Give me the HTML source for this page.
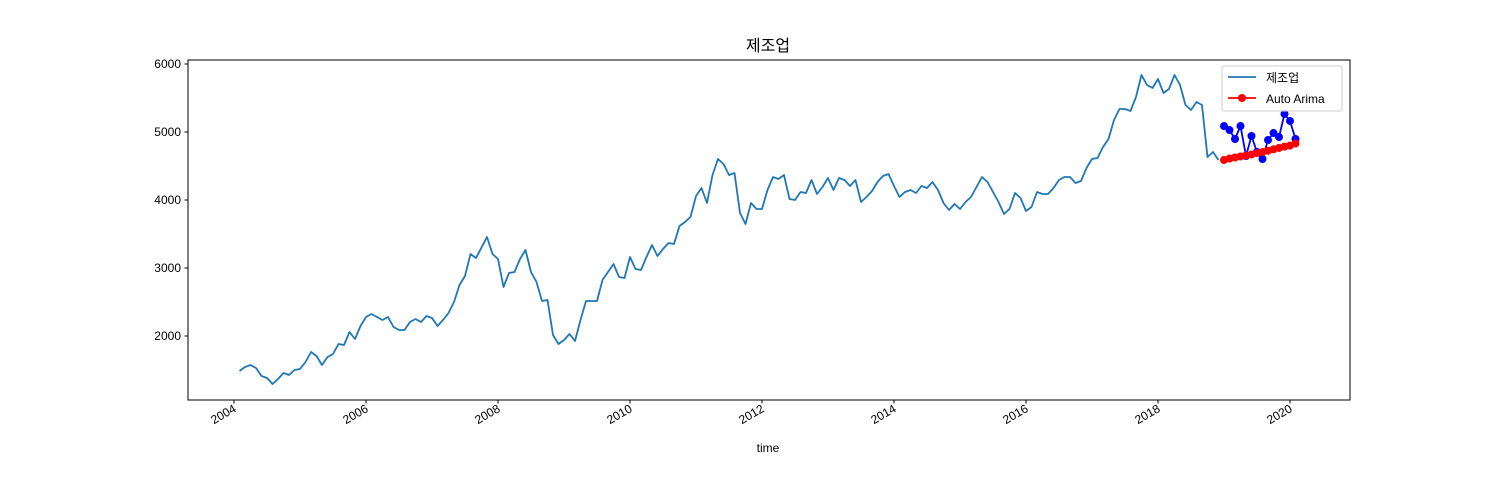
<!DOCTYPE html>
<html><head><meta charset="utf-8">
<style>
body{margin:0;background:#fff;}
svg{display:block;font-family:"Liberation Sans","Noto Sans CJK KR",sans-serif;}
</style></head>
<body>
<svg id="chart" width="1500" height="500" viewBox="0 0 1500 500">
<rect width="1500" height="500" fill="#fff"/>
<text x="768" y="51" font-size="16" text-anchor="middle" fill="#000">제조업</text>
<g id="grid"></g>
<g id="series"></g>
<rect x="188" y="60" width="1162" height="340" fill="none" stroke="#000" stroke-width="1"/>
<g id="axes"></g>
<text x="768" y="452" font-size="12" text-anchor="middle">time</text>
<g>
<rect x="1222" y="66" width="120" height="45" rx="2" fill="#fff" fill-opacity="0.8" stroke="#ccc"/>
<g>
<line x1="1228" y1="77" x2="1256" y2="77" stroke="#1f77b4" stroke-width="1.8"/>
<text x="1266" y="82" font-size="12">제조업</text>
</g>
<g>
<line x1="1228" y1="98" x2="1256" y2="98" stroke="red" stroke-width="1.8"/>
<circle cx="1242" cy="98" r="4" fill="red"/>
<text x="1266" y="103" font-size="12">Auto Arima</text>
</g>
</g>
</svg>
<script>
const startYear = 2004;
const actualValues = [1485,1544,1574,1529,1412,1382,1294,1368,1456,1426,1500,1515,
1618,1765,1706,1574,1691,1735,1882,1868,2059,1956,2147,2279,
2324,2279,2235,2279,2132,2088,2088,2206,2250,2206,2294,2265,
2147,2235,2338,2500,2750,2882,3206,3147,3300,3456,3206,3132,
2721,2926,2941,3132,3265,2941,2794,2515,2529,2015,1882,1941,
2029,1926,2235,2515,2515,2515,2824,2941,3059,2868,2853,3162,
2985,2971,3162,3338,3176,3279,3368,3353,3618,3676,3750,4059,
4176,3956,4368,4603,4529,4368,4397,3809,3647,3956,3868,3868,
4147,4338,4309,4368,4015,4000,4118,4103,4294,4088,4191,4324,
4147,4324,4294,4206,4294,3971,4044,4132,4265,4353,4382,4206,
4044,4118,4147,4103,4206,4176,4265,4147,3956,3853,3941,3868,
3971,4044,4191,4338,4265,4118,3971,3794,3868,4103,
4029,3838,3897,4118,4088,4088,4176,4294,4338,4338,4250,4279,4471,4603,4618,4779,4897,5176,5338,5338,5309,5515,5838,5691,5647,5779,5573,5632,5838,5691,5397,5324,5441,5397,4632,4706,4588];
const forecastStartIndex = 179;
const testValues = [5088,5029,4897,5088,4647,4941,4706,4603,4882,4985,4926,5265,5162,4897];
const arimaValues = [4588,4610,4625,4640,4655,4670,4690,4705,4725,4745,4765,4785,4800,4830];
const yTicks = [2000,3000,4000,5000,6000];
const xTicks = [2004,2006,2008,2010,2012,2014,2016,2018,2020];

const NS="http://www.w3.org/2000/svg";
function X(t){return 234+(t-2004)*66;}
function Y(v){return 64+(6000-v)*0.068;}
function tOf(i){return startYear+(i+1)/12;}
function mk(tag,attrs,parent){const e=document.createElementNS(NS,tag);for(const k in attrs)e.setAttribute(k,attrs[k]);parent.appendChild(e);return e;}
const axes=document.getElementById('axes'), series=document.getElementById('series');

yTicks.forEach(v=>{
  const g=mk('g',{},axes);
  
  
  mk('line',{x1:184.5,x2:188,y1:Y(v),y2:Y(v),stroke:'#000'},g);
  const t=mk('text',{x:181,y:Y(v)+4,'font-size':12,'text-anchor':'end'},g);t.textContent=v;
});
xTicks.forEach(yr=>{
  const g=mk('g',{},axes);
  
  
  mk('line',{x1:X(yr),x2:X(yr),y1:400,y2:403.5,stroke:'#000'},g);
  const t=mk('text',{x:X(yr)+3,y:411,'font-size':12,'text-anchor':'end',transform:`rotate(-30 ${X(yr)+3} 411)`},g);t.textContent=yr;
});

const pts=actualValues.map((v,i)=>X(tOf(i)).toFixed(1)+','+Y(v).toFixed(1)).join(' ');
const line=mk('polyline',{points:pts,fill:'none',stroke:'#1f77b4','stroke-width':1.8,'stroke-linejoin':'round'},series);



function drawMarked(vals,color,name){
  const g=mk('g',{},series);
  
  
  const p=vals.map((v,i)=>X(tOf(forecastStartIndex+i)).toFixed(1)+','+Y(v).toFixed(1)).join(' ');
  mk('polyline',{points:p,fill:'none',stroke:color,'stroke-width':1.8},g);
  vals.forEach((v,i)=>{
    const c=mk('circle',{cx:X(tOf(forecastStartIndex+i)),cy:Y(v),r:4,fill:color},g);
    
    
  });
}
drawMarked(testValues,'blue','test-series');
drawMarked(arimaValues,'red','auto-arima-series');
</script>
</body></html>
